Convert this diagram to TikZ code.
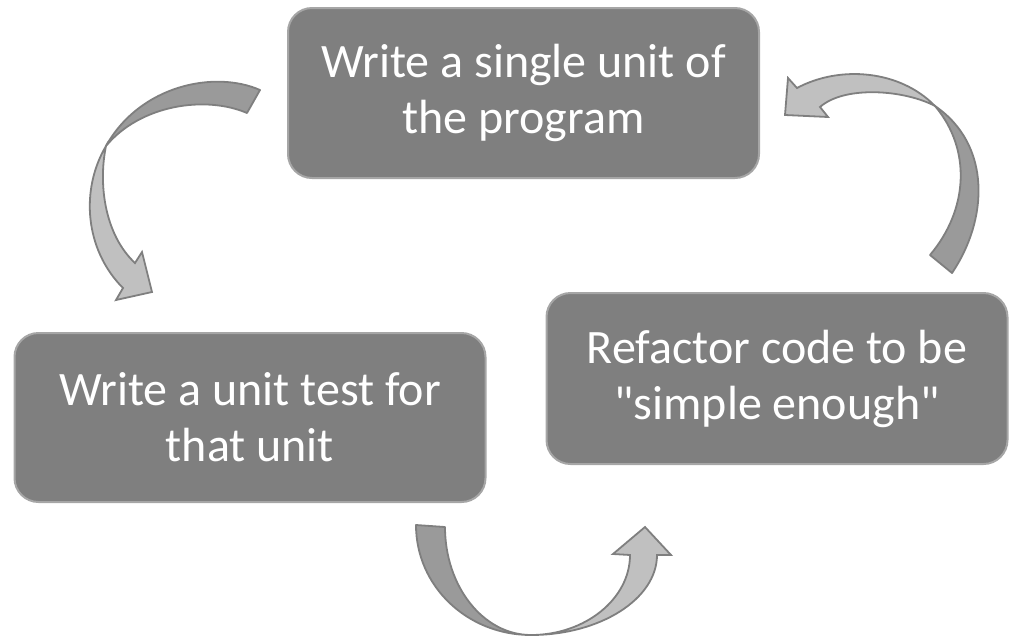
\documentclass[tikz,border=0pt]{standalone}
\usepackage{fontspec}
\setmainfont{Carlito}
\definecolor{boxfill}{HTML}{7F7F7F}
\definecolor{boxline}{HTML}{A6A6A6}
\definecolor{arrowdark}{HTML}{9A9A9A}
\definecolor{arrowlight}{HTML}{C0C0C0}
\definecolor{arrowline}{HTML}{7F7F7F}
% straight double quote, set as a glyph so the TeX ligature mapping leaves it alone
\newcommand{\straightquote}{\XeTeXglyph\XeTeXcharglyph"22\relax}
\tikzset{
  stepbox/.style={rounded corners=24pt, fill=boxfill, draw=boxline, line width=2pt,
    text=white, align=center, font=\fontsize{48}{56}\selectfont, inner sep=0pt},
  bandback/.style={fill=arrowdark, draw=arrowline, line width=1.8pt, line join=round},
  bandfront/.style={fill=arrowlight, draw=arrowline, line width=1.8pt, line join=miter},
}
\begin{document}
\begin{tikzpicture}[x=1pt,y=-1pt]
\useasboundingbox (0,0) rectangle (1010,638);

% the three steps of the cycle
\node[stepbox, minimum width=471pt, minimum height=170pt] (unit) at (523.5,93)
  {Write a single unit of\\the program};
\node[stepbox, minimum width=471pt, minimum height=169pt] (test) at (250,417.5)
  {Write a unit test for\\that unit};
\node[stepbox, minimum width=461pt, minimum height=171pt] (refactor) at (777,378.5)
  {Refactor code to be\\\straightquote simple enough\straightquote};

% curved arrow: unit -> test
\draw[bandback] (260,90) .. controls (215,70) and (140,85) .. (106,146)
  .. controls (140,105) and (205,95) .. (247,113) -- cycle;
\draw[bandfront] (106,146) .. controls (80,190) and (85,250) .. (123,288)
  -- (116,300) -- (152,292) -- (142,252) -- (135,263)
  .. controls (105,235) and (98,185) .. (106,146) -- cycle;

% curved arrow: refactor -> unit
\draw[bandback] (952,273) .. controls (988,220) and (992,145) .. (935,106)
  .. controls (972,150) and (968,210) .. (930,255) -- cycle;
\draw[bandfront] (935,106) .. controls (900,70) and (840,65) .. (797,88)
  -- (788,78) -- (785,115) -- (828,117) -- (820,107)
  .. controls (845,85) and (905,90) .. (935,106) -- cycle;

% curved arrow: test -> refactor
\draw[bandback] (416,525) .. controls (416,586) and (467,635) .. (531,635)
  .. controls (483,635) and (445,586) .. (445,527) -- cycle;
\draw[bandfront] (531,635) .. controls (585,635) and (630,599) .. (630,555)
  -- (613,554) -- (645,527) -- (671,555) -- (657,555)
  .. controls (657,599) and (600,635) .. (531,635) -- cycle;
\end{tikzpicture}
\end{document}
